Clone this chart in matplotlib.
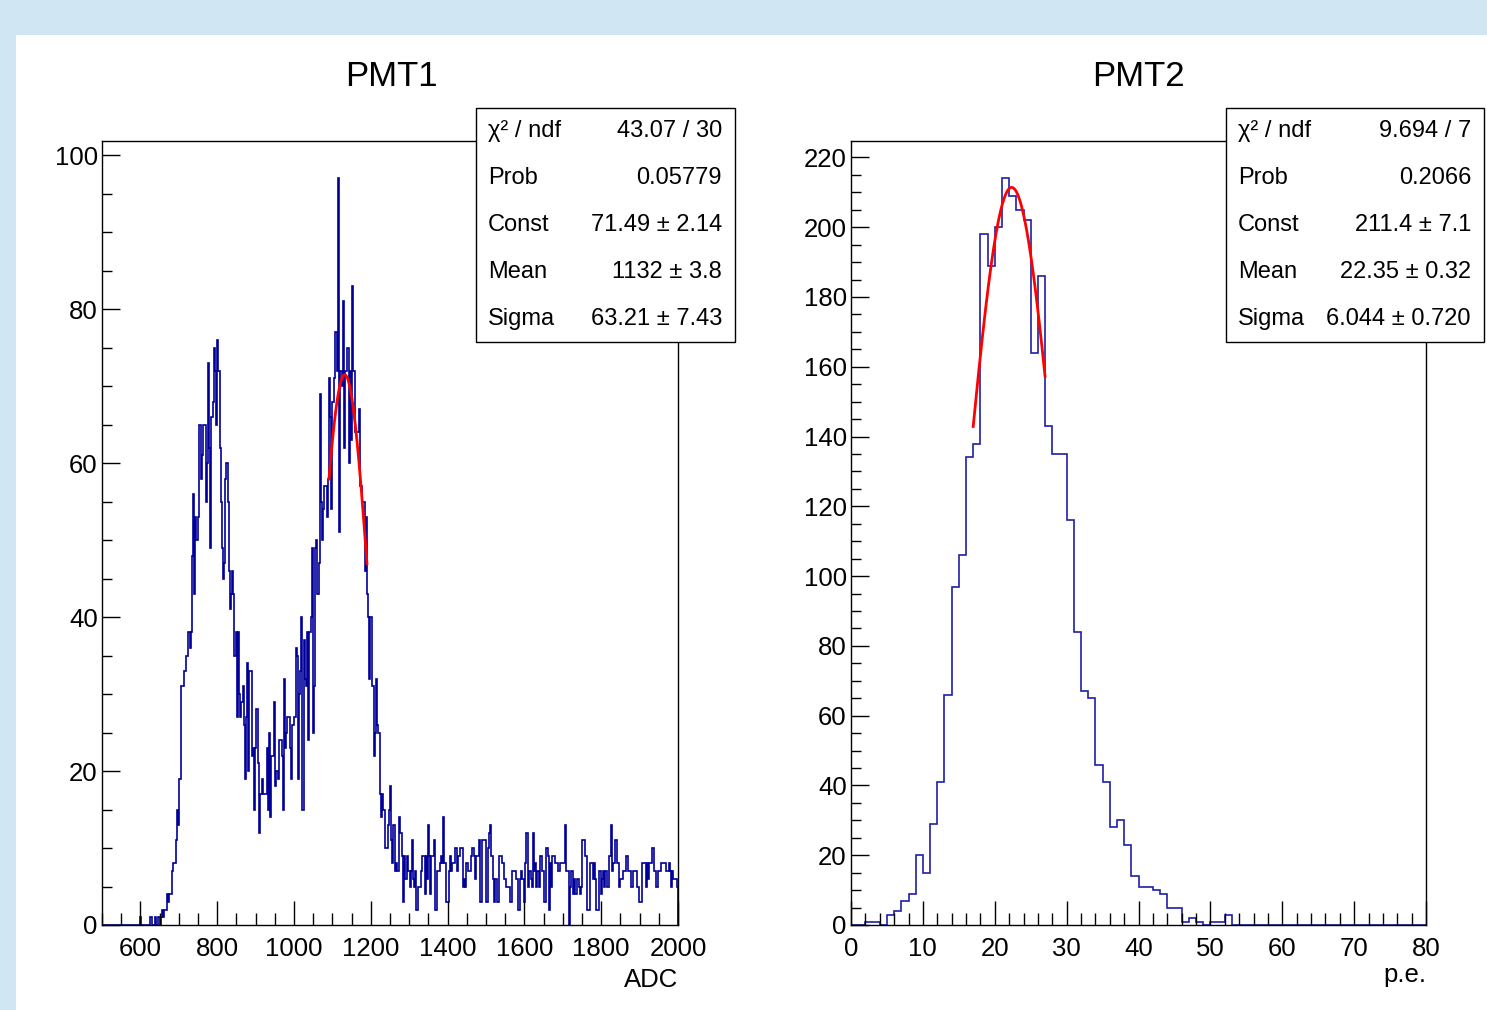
import numpy as np
import matplotlib.pyplot as plt
from matplotlib.patches import Rectangle
from matplotlib.ticker import MultipleLocator

plt.rcParams['font.family'] = ['Liberation Sans Narrow', 'Liberation Sans', 'DejaVu Sans']

W, H = 1487, 1010

# ---- PMT1: ADC spectrum, 500 bins of width 3 from 500 to 2000 ----
pmt1_range = [500, 2000]
pmt1_pedestal = [
    0, 0, 0, 0, 0, 0, 0, 0, 0, 0,
    0, 0, 0, 0, 0, 0, 0, 0, 0, 0,
    0, 0, 0, 0, 0, 0, 0, 0, 0, 0,
    0, 0, 0, 1, 0, 0, 0, 0, 0, 0,
    0, 0, 1, 0, 0, 0, 1, 0, 0, 1,
    0, 1]
pmt1_peak1 = [
    2, 1, 2, 2, 4, 3, 4, 4, 4, 7,
    8, 8, 11, 15, 13, 19, 19, 31, 31, 33,
    33, 35, 35, 38, 36, 38, 48, 56, 43, 53,
    50, 53, 65, 65, 58, 61, 65, 65, 55, 60,
    73, 62, 49, 66, 68, 75, 72, 65, 76, 72,
    62, 55, 49, 45, 47, 58, 60, 55, 46, 41]
pmt1_valley = [
    43, 46, 43, 35, 38, 27, 38, 30, 27, 29,
    31, 26, 19, 27, 34, 20, 33, 33, 22, 23,
    15, 23, 28, 21, 12, 17, 17, 19, 17, 17,
    17, 23, 15, 25, 14, 22, 22, 29, 18, 20,
    20, 19, 24, 24, 22, 15, 32, 23, 25, 27,
    27, 23, 19, 26, 26, 27, 36, 35, 19, 30,
    33, 40, 15, 37, 32, 31, 38, 24, 38, 40,
    49, 25, 31, 49, 50, 43, 47]
pmt1_peak2 = [
    69, 55, 50, 54, 57, 57, 53, 58, 71, 66,
    54, 68, 71, 77, 77, 72, 97, 51, 72, 70,
    81, 62, 72, 72, 75, 60, 72, 63, 83, 72,
    72, 64, 64, 64, 67, 57, 57, 55, 55, 46,
    53, 43, 40, 32, 40, 31, 31, 22, 25, 32,
    26, 25, 17, 14, 17, 15, 15, 10, 10, 13,
    15, 18, 11, 8, 13, 7, 8, 7, 7, 14,
    12, 9, 3, 9, 6]
pmt1_tail = [
    6, 9, 7, 5, 7, 11, 6, 5, 7, 2,
    5, 5, 5, 7, 9, 9, 4, 9, 6, 13,
    9, 4, 9, 9, 11, 2, 2, 7, 7, 8,
    9, 8, 14, 8, 8, 3, 3, 7, 9, 7,
    8, 8, 10, 10, 7, 9, 9, 10, 10, 5,
    6, 5, 8, 8, 7, 7, 9, 10, 10, 9,
    6, 9, 9, 11, 3, 3, 11, 11, 11, 3,
    3, 10, 12, 13, 9, 6, 3, 6, 6, 3,
    3, 9, 9, 8, 8, 6, 6, 5, 5, 5,
    3, 3, 7, 7, 7, 6, 6, 2, 2, 6,
    7, 6, 3, 8, 12, 12, 5, 7, 6, 5,
    12, 7, 8, 5, 7, 5, 9, 9, 7, 7,
    3, 10, 10, 9, 2, 8, 5, 9, 9, 8,
    8, 8, 7, 7, 8, 8, 8, 8, 13, 7,
    7, 0, 5, 7, 7, 4, 6, 4, 6, 6,
    5, 4, 5, 11, 11, 9, 9, 2, 2, 2,
    8, 8, 6, 8, 6, 2, 2, 7, 7, 4,
    6, 7, 5, 7, 5, 5, 9, 9, 13, 7,
    8, 11, 11, 8, 8, 5, 6, 6, 7, 7,
    7, 9, 9, 7, 7, 5, 5, 7, 7, 7,
    5, 5, 3, 3, 3, 8, 8, 8, 5, 8,
    6, 8, 8, 10, 10, 7, 7, 5, 5, 7,
    7, 8, 8, 8, 8, 8, 7, 7, 8, 7,
    5, 7, 6, 6, 6, 5]
pmt1_fit = [71.49, 1132, 63.21]      # const, mean, sigma
pmt1_fit_range = [1091, 1190]
pmt1_stat_names = ["χ² / ndf", "Prob", "Const", "Mean", "Sigma"]
pmt1_stat_vals = ["43.07 / 30", "0.05779", "71.49 ± 2.14", "1132 ± 3.8", "63.21 ± 7.43"]

# ---- PMT2: photo-electron spectrum, 80 bins of width 1 ----
pmt2_range = [0, 80]
pmt2_counts = [
    0, 0, 1, 1, 0, 3, 4, 7, 9, 20,
    15, 29, 41, 66, 97, 106, 134, 138, 198, 189,
    200, 214, 209, 205, 202, 164, 186, 143, 135, 135,
    116, 84, 67, 65, 46, 41, 28, 30, 23, 14,
    11, 11, 10, 9, 5, 5, 1, 2, 1, 0,
    1, 1, 3, 0, 0, 0, 0, 0, 0, 0,
    0, 0, 0, 0, 0, 0, 0, 0, 0, 0,
    0, 0, 0, 0, 0, 0, 0, 0, 0, 0]
pmt2_fit = [211.4, 22.35, 6.044]
pmt2_fit_range = [17, 27]
pmt2_stat_names = ["χ² / ndf", "Prob", "Const", "Mean", "Sigma"]
pmt2_stat_vals = ["9.694 / 7", "0.2066", "211.4 ± 7.1", "22.35 ± 0.32", "6.044 ± 0.720"]

pmt1_counts = np.array(pmt1_pedestal + pmt1_peak1 + pmt1_valley + pmt1_peak2 + pmt1_tail)
pmt2_counts = np.array(pmt2_counts)

fig = plt.figure(figsize=(W / 100, H / 100), dpi=100)
fig.patch.set_facecolor('#d0e6f3')
fig.add_artist(Rectangle((16 / W, 0), (W - 16) / W, (H - 35) / H,
                         transform=fig.transFigure, facecolor='white',
                         edgecolor='none', zorder=-10))


def px_axes(x0, x1, y0, y1):
    return fig.add_axes([x0 / W, 1 - y1 / H, (x1 - x0) / W, (y1 - y0) / H])


def gaus(x, p):
    return p[0] * np.exp(-0.5 * ((x - p[1]) / p[2]) ** 2)


def style(ax, xmaj, xmin, ymaj, ymin):
    ax.xaxis.set_major_locator(MultipleLocator(xmaj))
    ax.xaxis.set_minor_locator(MultipleLocator(xmin))
    ax.yaxis.set_major_locator(MultipleLocator(ymaj))
    ax.yaxis.set_minor_locator(MultipleLocator(ymin))
    ax.tick_params(which='both', direction='in', top=False, right=False,
                   width=1, color='black', labelsize=18.5)
    ax.tick_params(axis='x', which='major', length=17, pad=9)
    ax.tick_params(axis='x', which='minor', length=9)
    ax.tick_params(axis='y', which='major', length=13, pad=3)
    ax.tick_params(axis='y', which='minor', length=7)
    for s in ax.spines.values():
        s.set_color('black')
        s.set_linewidth(1)


def stat_box(x0, x1, y0, y1, names, vals):
    fig.add_artist(Rectangle((x0 / W, 1 - y1 / H), (x1 - x0) / W, (y1 - y0) / H,
                             transform=fig.transFigure, facecolor='white',
                             edgecolor='black', linewidth=1, zorder=5))
    n = len(names)
    step = (y1 - y0) / n
    for k in range(n):
        yc = y0 + step * (k + 0.5)
        fig.text((x0 + 12) / W, 1 - yc / H, names[k], ha='left', va='center',
                 fontsize=17, zorder=6)
        fig.text((x1 - 13) / W, 1 - yc / H, vals[k], ha='right', va='center',
                 fontsize=17, zorder=6)


# PMT1
ax1 = px_axes(102, 678, 141, 925)
edges1 = np.linspace(pmt1_range[0], pmt1_range[1], len(pmt1_counts) + 1)
ax1.stairs(pmt1_counts, edges1, color='#000099', linewidth=1.2)
xf = np.linspace(pmt1_fit_range[0], pmt1_fit_range[1], 200)
ax1.plot(xf, gaus(xf, pmt1_fit), color='red', linewidth=2)
ax1.set_xlim(pmt1_range)
ax1.set_ylim(0, 1.05 * pmt1_counts.max())
style(ax1, 200, 50, 20, 5)
fig.text(391 / W, 1 - 77 / H, "PMT1", ha='center', va='center', fontsize=25)
fig.text(678 / W, 1 - 980 / H, "ADC", ha='right', va='center', fontsize=18.5)
stat_box(476, 735, 108, 342, pmt1_stat_names, pmt1_stat_vals)

# PMT2
ax2 = px_axes(851, 1426, 141, 925)
edges2 = np.linspace(pmt2_range[0], pmt2_range[1], len(pmt2_counts) + 1)
ax2.stairs(pmt2_counts, edges2, color='#1f1fa8', linewidth=1.2)
xf = np.linspace(pmt2_fit_range[0], pmt2_fit_range[1], 200)
ax2.plot(xf, gaus(xf, pmt2_fit), color='red', linewidth=2)
ax2.set_xlim(pmt2_range)
ax2.set_ylim(0, 1.05 * pmt2_counts.max())
style(ax2, 10, 2, 20, 5)
fig.text(1138 / W, 1 - 77 / H, "PMT2", ha='center', va='center', fontsize=25)
fig.text(1426 / W, 1 - 975 / H, "p.e.", ha='right', va='center', fontsize=18.5)
stat_box(1226, 1484, 108, 342, pmt2_stat_names, pmt2_stat_vals)

fig.savefig("out.png", dpi=100)
